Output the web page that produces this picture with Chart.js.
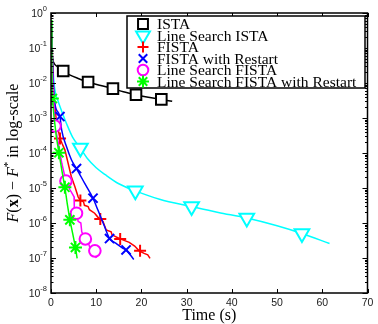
<!DOCTYPE html>
<html>
<head>
<meta charset="utf-8">
<script src="https://cdn.jsdelivr.net/npm/chart.js@4.4.1/dist/chart.umd.min.js"></script>
<style>
    html, body { margin: 0; padding: 0; background: #fff; }
</style>
</head>
<body>
<canvas id="convChart" width="378" height="324"></canvas>
<script>
// ✅ Series labels, colours and markers
const names = ["ISTA", "Line Search ISTA", "FISTA", "FISTA with Restart", "Line Search FISTA", "Line Search FISTA with Restart"];
const colors = ["#000000", "#00ffff", "#ff0000", "#0000ff", "#ff00ff", "#00ff00"];
const markers = ["rect", "triangle", "cross", "crossRot", "circle", "star"];

// ✅ Axis ticks
const xTicks = [0, 10, 20, 30, 40, 50, 60, 70];
const yTicks = [1e-8, 1e-7, 1e-6, 1e-5, 1e-4, 1e-3, 1e-2, 1e-1, 1];

// ✅ ISTA
const istaT = [0.2, 0.35, 0.7, 1.3, 2.0, 2.7, 4.0, 6.0, 8.2, 11.0, 13.7, 16.0, 18.8, 21.5, 24.4, 26.8];
const istaF = [8e-2, 5e-2, 3.6e-2, 3.0e-2, 2.5e-2, 2.2e-2, 1.74e-2, 1.35e-2, 1.07e-2, 8.5e-3, 6.9e-3, 5.6e-3, 4.6e-3, 3.9e-3, 3.4e-3, 3.0e-3];
const istaMarkT = [2.7, 8.2, 13.7, 18.8, 24.4];
const istaMarkF = [2.2e-2, 1.07e-2, 6.9e-3, 4.6e-3, 3.4e-3];

// ✅ Line Search ISTA
const lsIstaT = [0.2, 0.6, 1.0, 1.5, 2.0, 2.7, 3.4, 4.8, 6.5, 8.0, 10.0, 12.0, 15.0, 18.65, 24.0, 31.1, 37.0, 43.3, 50.0, 55.5, 61.6];
const lsIstaF = [1e-1, 1.26e-2, 5e-3, 3.2e-3, 2.1e-3, 1.2e-3, 7.1e-4, 2.8e-4, 1.38e-4, 7.1e-5, 3.8e-5, 2.4e-5, 1.32e-5, 8.3e-6, 4.8e-6, 2.95e-6, 2.0e-6, 1.38e-6, 8.3e-7, 5.0e-7, 2.6e-7];
const lsIstaMarkT = [6.5, 18.65, 31.1, 43.3, 55.5];
const lsIstaMarkF = [1.38e-4, 8.3e-6, 2.95e-6, 1.38e-6, 5.0e-7];

// ✅ FISTA
const fistaT = [0.1, 0.6, 1.2, 2.0, 2.5, 3.07, 3.8, 4.5, 5.27, 6.0, 6.5, 7.2, 7.4, 8.2, 8.5, 9.65, 10.4, 11.5, 12.2, 13.3, 13.5, 15.1, 15.6, 17.3, 18.5, 19.5, 20.6, 21.4, 21.9];
const fistaF = [4e-1, 5e-3, 7.9e-4, 2.6e-4, 1.8e-4, 1.23e-4, 5e-5, 2.1e-5, 1.1e-5, 5.6e-6, 4.4e-6, 4e-6, 3.2e-6, 2.95e-6, 2.4e-6, 1.9e-6, 1.45e-6, 1.1e-6, 6.3e-7, 5.6e-7, 4.6e-7, 3.6e-7, 3.4e-7, 2.8e-7, 2.2e-7, 1.6e-7, 1.35e-7, 1.23e-7, 9.8e-8];
const fistaMarkT = [2.0, 6.5, 10.9, 15.3, 19.7];
const fistaMarkF = [2.6e-4, 4.4e-6, 1.3e-6, 3.5e-7, 1.6e-7];

// ✅ FISTA with Restart
const restartT = [0.1, 0.5, 0.88, 1.97, 2.35, 3.44, 4.54, 5.64, 7.46, 9.29, 10.4, 11.85, 12.95, 14.4, 15.9, 16.6, 18.3];
const restartF = [5e-1, 1e-2, 2.5e-3, 1.1e-3, 4.6e-4, 1.5e-4, 6.3e-5, 3.6e-5, 1.35e-5, 5.1e-6, 2.3e-6, 7.9e-7, 3.6e-7, 2.6e-7, 1.9e-7, 1.7e-7, 9.1e-8];
const restartMarkT = [1.97, 5.64, 9.29, 12.95, 16.6];
const restartMarkF = [1.1e-3, 3.6e-5, 5.1e-6, 3.6e-7, 1.7e-7];

// ✅ Line Search FISTA
const lsFistaT = [0.1, 0.4, 0.88, 1.6, 2.4, 3.3, 4.2, 5.1, 5.15, 5.64, 6.0, 6.6, 6.8, 7.46, 8.2, 8.6, 9.66, 10.0];
const lsFistaF = [3e-1, 1e-2, 5.9e-4, 2e-4, 5e-5, 1.58e-5, 8.9e-6, 5.6e-6, 2.8e-6, 1.9e-6, 1.12e-6, 1e-6, 5.6e-7, 3.6e-7, 2.8e-7, 2.0e-7, 1.62e-7, 1e-7];
const lsFistaMarkT = [0.88, 3.3, 5.64, 7.6, 9.7];
const lsFistaMarkF = [5.9e-4, 1.58e-5, 1.9e-6, 3.5e-7, 1.6e-7];

// ✅ Line Search FISTA with Restart
const lsRestartT = [0.1, 0.2, 0.3, 0.7, 1.2, 1.75, 2.4, 3.07, 3.6, 4.17, 4.8, 5.41, 5.78];
const lsRestartF = [6.3e-1, 3.2e-2, 3.6e-3, 1e-3, 2.8e-4, 1.02e-4, 3.2e-5, 1.05e-5, 3.5e-6, 1.23e-6, 5e-7, 2.0e-7, 9.8e-8];
const lsRestartMarkT = [0.3, 1.75, 3.07, 4.17, 5.41];
const lsRestartMarkF = [3.6e-3, 1.02e-4, 1.05e-5, 1.23e-6, 2.0e-7];

const series = [
    { t: istaT, f: istaF, mt: istaMarkT, mf: istaMarkF, smooth: true },
    { t: lsIstaT, f: lsIstaF, mt: lsIstaMarkT, mf: lsIstaMarkF, smooth: true },
    { t: fistaT, f: fistaF, mt: fistaMarkT, mf: fistaMarkF, smooth: false },
    { t: restartT, f: restartF, mt: restartMarkT, mf: restartMarkF, smooth: true },
    { t: lsFistaT, f: lsFistaF, mt: lsFistaMarkT, mf: lsFistaMarkF, smooth: false },
    { t: lsRestartT, f: lsRestartF, mt: lsRestartMarkT, mf: lsRestartMarkF, smooth: false }
];

const markerRadius = { rect: 7.5, triangle: 8.5, cross: 6, crossRot: 6.5, circle: 5.8, star: 6.5 };
const SERIF = '"Liberation Serif", "Times New Roman", serif';
const SANS = '"Liberation Sans", "DejaVu Sans", sans-serif';

// ✅ Build datasets: one line + one marker set per series
const datasets = [];
series.forEach((s, i) => {
    const order = 20 - i * 2;
    datasets.push({
        label: names[i],
        data: s.t.map((x, k) => ({ x: x, y: s.f[k] })),
        borderColor: colors[i],
        borderWidth: 1.5,
        pointRadius: 0,
        fill: false,
        cubicInterpolationMode: s.smooth ? "monotone" : "default",
        tension: 0,
        order: order
    });
    datasets.push({
        label: names[i] + " markers",
        data: s.mt.map((x, k) => ({ x: x, y: s.mf[k] })),
        showLine: false,
        pointStyle: markers[i],
        pointRotation: markers[i] === "triangle" ? 180 : 0,
        pointRadius: markerRadius[markers[i]],
        pointBorderWidth: 2,
        pointBorderColor: colors[i],
        pointBackgroundColor: "#ffffff",
        order: order - 1
    });
});

// ✅ Inward MATLAB-style ticks, box, y labels, y title and legend
const matlabPlugin = {
    id: "matlabAxes",
    afterDraw(chart) {
        const ctx = chart.ctx;
        const a = chart.chartArea;
        const xs = chart.scales.x;
        const ys = chart.scales.y;
        ctx.save();
        ctx.strokeStyle = "#000";
        ctx.lineWidth = 1;

        // ticks on x (bottom and top)
        ctx.beginPath();
        xTicks.forEach(v => {
            const px = Math.round(xs.getPixelForValue(v)) + 0.5;
            ctx.moveTo(px, a.bottom); ctx.lineTo(px, a.bottom - 4);
            ctx.moveTo(px, a.top); ctx.lineTo(px, a.top + 4);
        });
        // ticks on y (left and right), major + minor
        yTicks.forEach((v, k) => {
            const py = Math.round(ys.getPixelForValue(v)) + 0.5;
            ctx.moveTo(a.left, py); ctx.lineTo(a.left + 5, py);
            ctx.moveTo(a.right, py); ctx.lineTo(a.right - 5, py);
            if (k < yTicks.length - 1) {
                for (let m = 2; m < 10; m++) {
                    const pm = Math.round(ys.getPixelForValue(v * m)) + 0.5;
                    ctx.moveTo(a.left, pm); ctx.lineTo(a.left + 2.5, pm);
                    ctx.moveTo(a.right, pm); ctx.lineTo(a.right - 2.5, pm);
                }
            }
        });
        ctx.stroke();

        // box
        ctx.lineWidth = 1.5;
        ctx.strokeRect(a.left, a.top, a.right - a.left, a.bottom - a.top);

        // y tick labels 10^k with raised exponent
        ctx.fillStyle = "#1a1a1a";
        ctx.textBaseline = "middle";
        ctx.textAlign = "left";
        ys.ticks.forEach(t => {
            const py = ys.getPixelForValue(t.value);
            const e = String(Math.round(Math.log10(t.value)));
            ctx.font = "10.5px " + SANS;
            const wBase = ctx.measureText("10").width;
            ctx.font = "7.5px " + SANS;
            const wExp = ctx.measureText(e).width;
            const x0 = a.left - 4 - wBase - wExp;
            ctx.font = "10.5px " + SANS;
            ctx.fillText("10", x0, py + 1);
            ctx.font = "7.5px " + SANS;
            ctx.fillText(e, x0 + wBase, py - 4.5);
        });

        // y title: F(x) − F* in log-scale
        const parts = [
            ["italic 16px " + SERIF, "F", 0],
            ["16px " + SERIF, "(", 0],
            ["bold 16px " + SERIF, "x", 0],
            ["16px " + SERIF, ") \u2212 ", 0],
            ["italic 16px " + SERIF, "F", 0],
            ["11px " + SERIF, "*", -6],
            ["16px " + SERIF, " in log-scale", 0]
        ];
        let total = 0;
        parts.forEach(p => { ctx.font = p[0]; total += ctx.measureText(p[1]).width; });
        ctx.translate(14, (a.top + a.bottom) / 2);
        ctx.rotate(-Math.PI / 2);
        ctx.fillStyle = "#000";
        let cx = -total / 2;
        parts.forEach(p => {
            ctx.font = p[0];
            ctx.fillText(p[1], cx, p[2]);
            cx += ctx.measureText(p[1]).width;
        });
        ctx.restore();

        // legend box
        ctx.save();
        const lx = 127, ly = 16, lw = 238, lh = 72;
        ctx.fillStyle = "#fff";
        ctx.fillRect(lx, ly, lw, lh);
        ctx.strokeStyle = "#000";
        ctx.lineWidth = 1.5;
        ctx.strokeRect(lx, ly, lw, lh);
        ctx.font = "15.5px " + SERIF;
        ctx.textBaseline = "middle";
        names.forEach((n, i) => {
            const y = 24 + i * 11.5;
            ctx.strokeStyle = colors[i];
            ctx.fillStyle = "#fff";
            ctx.lineWidth = 2;
            Chart.helpers.drawPoint(ctx, {
                pointStyle: markers[i],
                radius: markerRadius[markers[i]] - 0.5,
                rotation: markers[i] === "triangle" ? 180 : 0,
                borderWidth: 2
            }, 143, y);
            ctx.fillStyle = "#000";
            ctx.fillText(n, 157, y + 1);
        });
        ctx.restore();
    }
};

const chart = new Chart(document.getElementById("convChart").getContext("2d"), {
    type: "line",
    data: { datasets: datasets },
    options: {
        responsive: false,
        animation: false,
        layout: { padding: { left: 0, right: 8, top: 13, bottom: 0 } },
        plugins: { legend: { display: false }, tooltip: { enabled: false } },
        scales: {
            x: {
                type: "linear",
                min: 0,
                max: 70,
                afterBuildTicks: s => { s.ticks = xTicks.map(v => ({ value: v })); },
                afterFit: s => { s.height = 31; },
                grid: { display: false, drawTicks: false },
                border: { display: false },
                ticks: { font: { family: SANS, size: 10.5 }, color: "#1a1a1a", padding: 4, maxRotation: 0 },
                title: { display: true, text: "Time (s)", font: { family: SERIF, size: 16, lineHeight: 1.0 }, color: "#000", padding: { top: 0, bottom: 0 } }
            },
            y: {
                type: "logarithmic",
                min: 1e-8,
                max: 1,
                afterBuildTicks: s => { s.ticks = yTicks.map(v => ({ value: v, major: true })); },
                afterFit: s => { s.width = 51; },
                grid: { display: false, drawTicks: false },
                border: { display: false },
                ticks: { display: false }
            }
        }
    },
    plugins: [matlabPlugin]
});
</script>
</body>
</html>
